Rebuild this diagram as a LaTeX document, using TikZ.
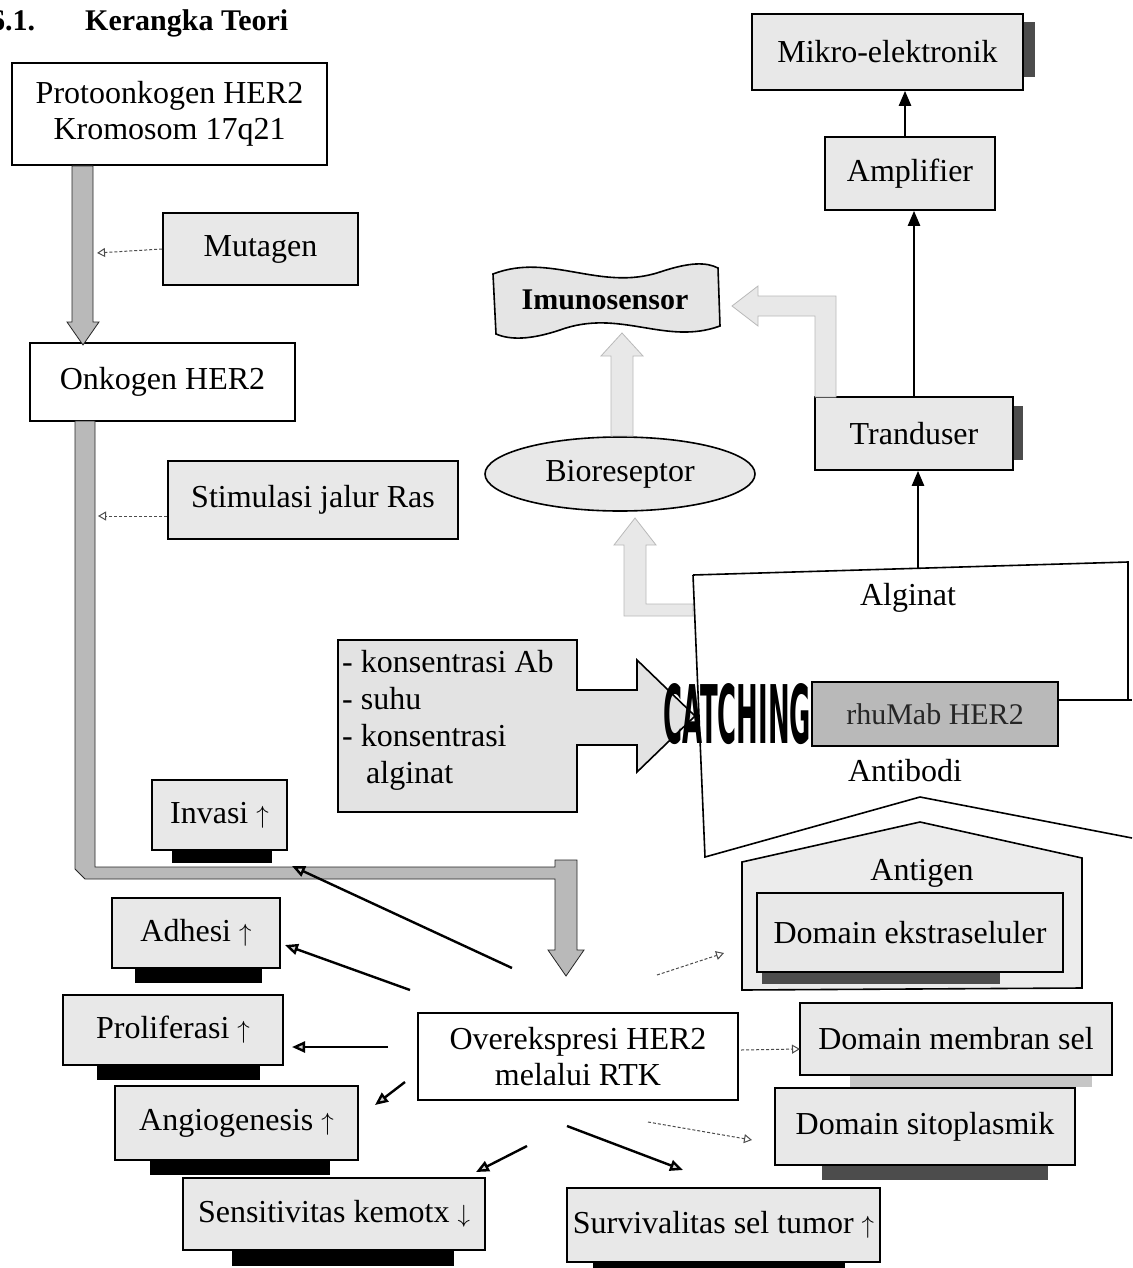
\documentclass[tikz,border=0pt]{standalone}
\usepackage{fontspec}
\setmainfont{Liberation Serif}
\newfontfamily\catchfont{DejaVu Sans}
\usetikzlibrary{arrows.meta,calc,shapes.geometric}
\tikzset{
 lbl/.style={font=\fontsize{32}{36}\selectfont, align=center, inner sep=0pt},
 plainbox/.style={draw, line width=1.6pt, fill=white, lbl},
 gbox/.style={draw, line width=1.6pt, fill=gray!18, lbl},
 shadowbar/.style={fill=black},
 darkbar/.style={fill=gray!60!black},
 lightbar/.style={fill=gray!45},
 solidarr/.style={line width=2.4pt, -{Triangle[length=15pt,width=12pt]}},
 effarr/.style={line width=2.4pt, -{Triangle[length=13pt,width=11pt,fill=gray!35]}},
 dasharr/.style={gray!60!black, line width=1pt, densely dashed, -{Triangle[open,length=8pt,width=9pt]}},
 bigarr/.style={fill=gray!55, draw=gray!30!black, line width=0.8pt},
 lightarr/.style={fill=gray!18, draw=gray!55, line width=0.8pt},
 outline/.style={draw, line width=1.6pt},
}
\begin{document}
\begin{tikzpicture}[x=1pt,y=-1pt]
\useasboundingbox (0,0) rectangle (1132,1268);
\fill[white] (0,0) rectangle (1132,1268);

% title
\node[anchor=base west, inner sep=0pt, font=\bfseries\fontsize{30}{36}\selectfont] (num) at (-10,31) {6.1.};
\node[anchor=base west, inner sep=0pt, font=\bfseries\fontsize{30}{36}\selectfont] (title) at (85,31) {Kerangka Teori};

% ---- left column ----
\node[plainbox, minimum width=315pt, minimum height=102pt] (proto) at (169.5,114) {Protoonkogen HER2\\Kromosom 17q21};
\node[gbox, minimum width=195pt, minimum height=72pt] (mutagen) at (260.5,249) {Mutagen};
\node[plainbox, minimum width=265pt, minimum height=78pt] (onko) at (162.5,382) {Onkogen HER2};
\node[gbox, minimum width=290pt, minimum height=78pt] (stim) at (313,500) {Stimulasi jalur Ras};

% big dark arrow proto -> onko
\draw[bigarr] (72,166) -- (93,166) -- (93,322) -- (99,322) -- (83,345) -- (67,322) -- (72,322) -- cycle;
% big dark elbow arrow onko -> overekspresi
\draw[bigarr] (75,421) -- (95,421) -- (95,867) -- (555,867) -- (555,860) -- (577,860) -- (577,950)
   -- (584,950) -- (566,976) -- (548,950) -- (555,950) -- (555,879) -- (85,879) -- (75,869) -- cycle;
\coordinate (midarr1) at (97,253);
\coordinate (midarr2) at (98,516);
\draw[dasharr] (mutagen.west) -- (midarr1);
\draw[dasharr] (stim.west |- midarr2) -- (midarr2);

% ---- effect boxes with shadows ----
\fill[shadowbar] (172,850) rectangle (272,863);
\fill[shadowbar] (135,968) rectangle (262,983);
\fill[shadowbar] (97,1065) rectangle (260,1080);
\fill[shadowbar] (150,1160) rectangle (330,1175);
\fill[shadowbar] (232,1250) rectangle (454,1266);
\fill[shadowbar] (593,1262) rectangle (845,1268);
\node[gbox, minimum width=135pt, minimum height=70pt] (invasi) at (219.5,815) {Invasi $\uparrow$};
\node[gbox, minimum width=168pt, minimum height=70pt] (adhesi) at (196,933) {Adhesi $\uparrow$};
\node[gbox, minimum width=220pt, minimum height=70pt] (prolif) at (173,1030) {Proliferasi $\uparrow$};
\node[gbox, minimum width=243pt, minimum height=74pt] (angio) at (236.5,1123) {Angiogenesis $\uparrow$};
\node[gbox, minimum width=302pt, minimum height=72pt] (sensi) at (334,1214) {Sensitivitas kemotx $\downarrow$};
\node[gbox, minimum width=313pt, minimum height=74pt] (surv) at (723.5,1225) {Survivalitas sel tumor $\uparrow$};
\node[plainbox, minimum width=320pt, minimum height=87pt] (over) at (578,1056.5) {Overekspresi HER2\\melalui RTK};

% effect arrows
\coordinate (s1) at (512,968);   \coordinate (t1) at (292,866);
\coordinate (s2) at (410,990);   \coordinate (t2) at (285,945);
\coordinate (s3) at (388,1047);  \coordinate (t3) at (292,1047);
\coordinate (s4) at (405,1082);  \coordinate (t4) at (375,1105);
\coordinate (s5) at (527,1146);  \coordinate (t5) at (476,1172);
\coordinate (s6) at (567,1126);  \coordinate (t6) at (683,1170);
\draw[effarr] (s1) -- (t1);
\draw[effarr] (s2) -- (t2);
\draw[effarr] (s3) -- (t3);
\draw[effarr] (s4) -- (t4);
\draw[effarr] (s5) -- (t5);
\draw[effarr] (s6) -- (t6);

% ---- right part: sensor chain ----
\fill[darkbar] (1024,22) rectangle (1035,77);
\fill[darkbar] (1014,406) rectangle (1023,460);
\node[gbox, minimum width=271pt, minimum height=76pt] (mikro) at (887.5,52) {Mikro-elektronik};
\node[gbox, minimum width=170pt, minimum height=73pt] (ampl) at (910,173.5) {Amplifier};
\node[gbox, minimum width=198pt, minimum height=73pt] (tran) at (914,433.5) {Tranduser};

% Imunosensor banner
\draw[fill=gray!20, line width=1.6pt] (493,274) .. controls (550,252) and (600,292) .. (660,272)
   .. controls (690,262) and (706,262) .. (718,268) -- (720,326)
   .. controls (665,346) and (620,308) .. (560,330) .. controls (530,340) and (510,340) .. (496,334) -- cycle;
\node[lbl, font=\bfseries\fontsize{30}{36}\selectfont] (imun) at (605,300) {Imunosensor};

\node[draw, ellipse, line width=1.6pt, fill=gray!18, lbl, minimum width=270pt, minimum height=74pt] (bio) at (620,474) {Bioreseptor};

% light hollow arrows
\draw[lightarr] (611,436) -- (633,436) -- (633,356) -- (643,356) -- (622,333) -- (601,356) -- (611,356) -- cycle;
\draw[lightarr] (815,397) -- (836,397) -- (836,296) -- (758,296) -- (758,286) -- (732,306) -- (758,326) -- (758,316) -- (815,316) -- cycle;
\draw[lightarr] (693,604) -- (646,604) -- (646,545) -- (656,545) -- (635,518) -- (614,545) -- (624,545) -- (624,616) -- (693,616) -- cycle;

% Alginat / antibody outline
\draw[outline] (693,575) -- (1128,562) -- (1128,700);
\draw[outline] (693,575) -- (705,857) -- (920,797) -- (1132,838);
\draw[outline] (1040,700) -- (1132,700);
\coordinate (alg) at (918,568);
\node[lbl] (alginat) at (908,598) {Alginat};
\node[lbl] (antibodi) at (905,771) {Antibodi};

% solid chain arrows
\draw[solidarr] (alg) -- (tran.south -| alg);
\draw[solidarr] (tran.north) -- (tran.north |- ampl.south);
\draw[solidarr] (ampl.north -| 905,0) -- (mikro.south -| 905,0);

% parameter block arrow
\draw[fill=gray!22, line width=1.6pt] (338,640) -- (577,640) -- (577,690) -- (637,690) -- (637,660) -- (695,716)
   -- (637,772) -- (637,745) -- (577,745) -- (577,812) -- (338,812) -- cycle;
\node[lbl, anchor=north west, align=left, font=\fontsize{32}{37}\selectfont] (param) at (342,650)
   {- konsentrasi Ab\\- suhu\\- konsentrasi\\\hspace*{24pt}alginat};

% rhuMab and CATCHING
\node[draw, line width=1.6pt, fill=gray!55, minimum width=246pt, minimum height=64pt, inner sep=0pt,
   font=\fontsize{30}{34}\selectfont, text=black!85] (rhumab) at (935,714) {rhuMab HER2};
\node[inner sep=0pt] (catching) at (737,714) {\resizebox{148pt}{60pt}{\catchfont\bfseries CATCHING}};

% antigen pentagon
\draw[outline, fill=gray!15] (742,990) -- (742,862) -- (920,822) -- (1082,858) -- (1082,988) -- cycle;
\node[lbl] (antigen) at (922,873) {Antigen};
\fill[darkbar] (762,972) rectangle (1000,984);
\node[gbox, minimum width=306pt, minimum height=79pt] (ekstra) at (910,932.5) {Domain ekstraseluler};
\fill[lightbar] (850,1075) rectangle (1092,1087);
\node[gbox, minimum width=312pt, minimum height=72pt] (membran) at (956,1039) {Domain membran sel};
\fill[darkbar] (822,1165) rectangle (1048,1180);
\node[gbox, minimum width=300pt, minimum height=77pt] (sito) at (925,1126.5) {Domain sitoplasmik};

% dashed arrows to domains
\coordinate (d1s) at (657,975);  \coordinate (d1t) at (724,953);
\coordinate (d2s) at (741,1050); \coordinate (d2t) at (800,1049);
\coordinate (d3s) at (648,1122); \coordinate (d3t) at (752,1140);
\draw[dasharr] (d1s) -- (d1t);
\draw[dasharr] (d2s) -- (d2t);
\draw[dasharr] (d3s) -- (d3t);
\end{tikzpicture}
\end{document}
